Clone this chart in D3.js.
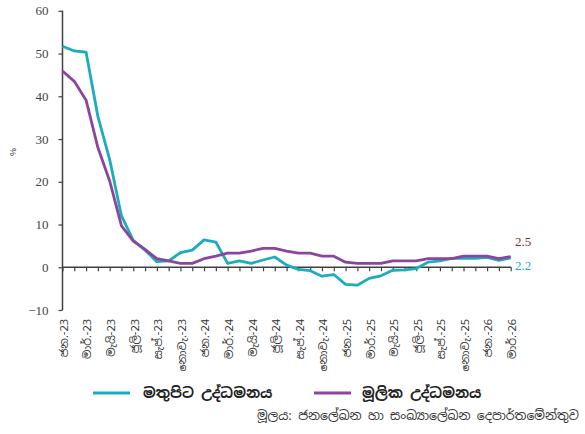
<!DOCTYPE html>
<html><head><meta charset="utf-8">
<script src="https://cdn.jsdelivr.net/npm/d3@7"></script>
<style>body{margin:0;background:#fff}svg{display:block}</style>
</head><body>
<script>
const months = ["ජන.-23","පෙබ.-23","මාර්.-23","අප්‍රේ.-23","මැයි-23","ජූනි-23","ජූලි-23","අගෝ.-23","සැප්.-23","ඔක්.-23","නොවැ.-23","දෙසැ.-23",
"ජන.-24","පෙබ.-24","මාර්.-24","අප්‍රේ.-24","මැයි-24","ජූනි-24","ජූලි-24","අගෝ.-24","සැප්.-24","ඔක්.-24","නොවැ.-24","දෙසැ.-24",
"ජන.-25","පෙබ.-25","මාර්.-25","අප්‍රේ.-25","මැයි-25","ජූනි-25","ජූලි-25","අගෝ.-25","සැප්.-25","ඔක්.-25","නොවැ.-25","දෙසැ.-25",
"ජන.-26","පෙබ.-26","මාර්.-26"];
const headline = [51.7,50.6,50.3,35.3,25.2,12.0,6.3,4.0,1.3,1.5,3.4,4.0,
6.4,5.9,0.9,1.5,0.9,1.7,2.4,0.5,-0.5,-0.8,-2.1,-1.7,
-4.0,-4.2,-2.6,-2.0,-0.7,-0.6,-0.3,1.2,1.5,2.1,2.1,2.1,
2.3,1.6,2.2];
const core = [45.9,43.5,39.1,28.0,20.2,9.7,6.1,4.2,2.0,1.5,0.9,0.9,
2.0,2.6,3.3,3.3,3.8,4.4,4.4,3.8,3.3,3.3,2.6,2.6,
1.2,0.9,0.9,0.9,1.5,1.5,1.5,2.0,2.0,2.0,2.6,2.6,
2.6,2.0,2.5];
const yTicks = [-10,0,10,20,30,40,50,60];
const seriesNames = ["මතුපිට උද්ධමනය","මූලික උද්ධමනය"];
const colors = ["#1AADBD","#8C459E"];
const sourceText = "මූලය: ජනලේඛන හා සංඛ්‍යාලේඛන දෙපාර්තමේන්තුව";

const W=585,H=434;
const svg=d3.select("body").append("svg").attr("width",W).attr("height",H);
const x=d3.scalePoint().domain(months).range([62.5,510.7]);
const y=d3.scaleLinear().domain([-10,60]).range([310,10.8]);
const axisCol="#404040";
const serif="'Liberation Serif','DejaVu Serif',serif";

// y axis
const ya=svg.append("g").attr("transform","translate(62.5,0)")
  .call(d3.axisLeft(y).tickValues(yTicks).tickSize(4).tickPadding(10).tickFormat(d3.format("d")));
ya.select(".domain").attr("stroke",axisCol).attr("stroke-width",1.5).attr("d","M0,10.8V310");
ya.selectAll(".tick line").attr("stroke",axisCol).attr("stroke-width",1.2);
ya.selectAll(".tick text").attr("fill","#444").attr("font-family",serif).attr("font-size",13);

// x axis at zero
const xa=svg.append("g").attr("transform",`translate(0,${y(0)})`)
  .call(d3.axisBottom(x).tickSize(4).tickFormat(""));
xa.select(".domain").attr("stroke",axisCol).attr("stroke-width",1.5).attr("d",`M62.5,0H${x(months[months.length-1])+0.5}`);
xa.selectAll(".tick line").attr("stroke",axisCol).attr("stroke-width",1.2);

// x labels (every 2nd month) at bottom
svg.append("g").selectAll("text").data(months.filter((d,i)=>i%2===0)).join("text")
  .attr("transform",d=>`translate(${x(d)+1.5},319) rotate(-90)`)
  .attr("text-anchor","end").attr("dy","0.35em")
  .attr("font-family","'Noto Sans Sinhala','Iskoola Pota',sans-serif").attr("font-size",11).attr("fill","#333")
  .text(d=>d);

// y title
svg.append("text").attr("transform","translate(13,152) rotate(-90)").attr("text-anchor","middle")
  .attr("dy","0.35em").attr("font-family","'Liberation Sans',sans-serif").attr("font-size",9).attr("fill","#333").text("%");

// lines
const line=d3.line().x((d,i)=>x(months[i])).y(d=>y(d));
[headline,core].forEach((s,k)=>{
  svg.append("path").datum(s).attr("d",line).attr("fill","none").attr("stroke",colors[k])
    .attr("stroke-width",2.8).attr("stroke-linejoin","round");
});

// end labels
const last=months.length-1;
svg.append("text").attr("x",515).attr("y",y(core[last])-15).attr("dy","0.35em")
  .attr("font-family",serif).attr("font-size",13).attr("fill","#8B2530").text(d3.format(".1f")(core[last]));
svg.append("text").attr("x",515).attr("y",y(headline[last])+8).attr("dy","0.35em")
  .attr("font-family",serif).attr("font-size",13).attr("fill",colors[0]).text(d3.format(".1f")(headline[last]));

// legend
const leg=[{x0:93,tx:143},{x0:314,tx:362}];
leg.forEach((l,k)=>{
  svg.append("line").attr("x1",l.x0).attr("x2",l.x0+37).attr("y1",393).attr("y2",393)
    .attr("stroke",colors[k]).attr("stroke-width",3);
  svg.append("text").attr("x",l.tx).attr("y",393).attr("dy","0.35em")
    .attr("font-family","'Noto Sans Sinhala',sans-serif").attr("font-size",14.5).attr("font-weight","bold").attr("fill","#222")
    .text(seriesNames[k]);
});
svg.append("text").attr("x",579).attr("y",416).attr("text-anchor","end").attr("dy","0.35em")
  .attr("font-family","'Noto Sans Sinhala',sans-serif").attr("font-size",12.5).attr("fill","#333").text(sourceText);
</script>
</body></html>
